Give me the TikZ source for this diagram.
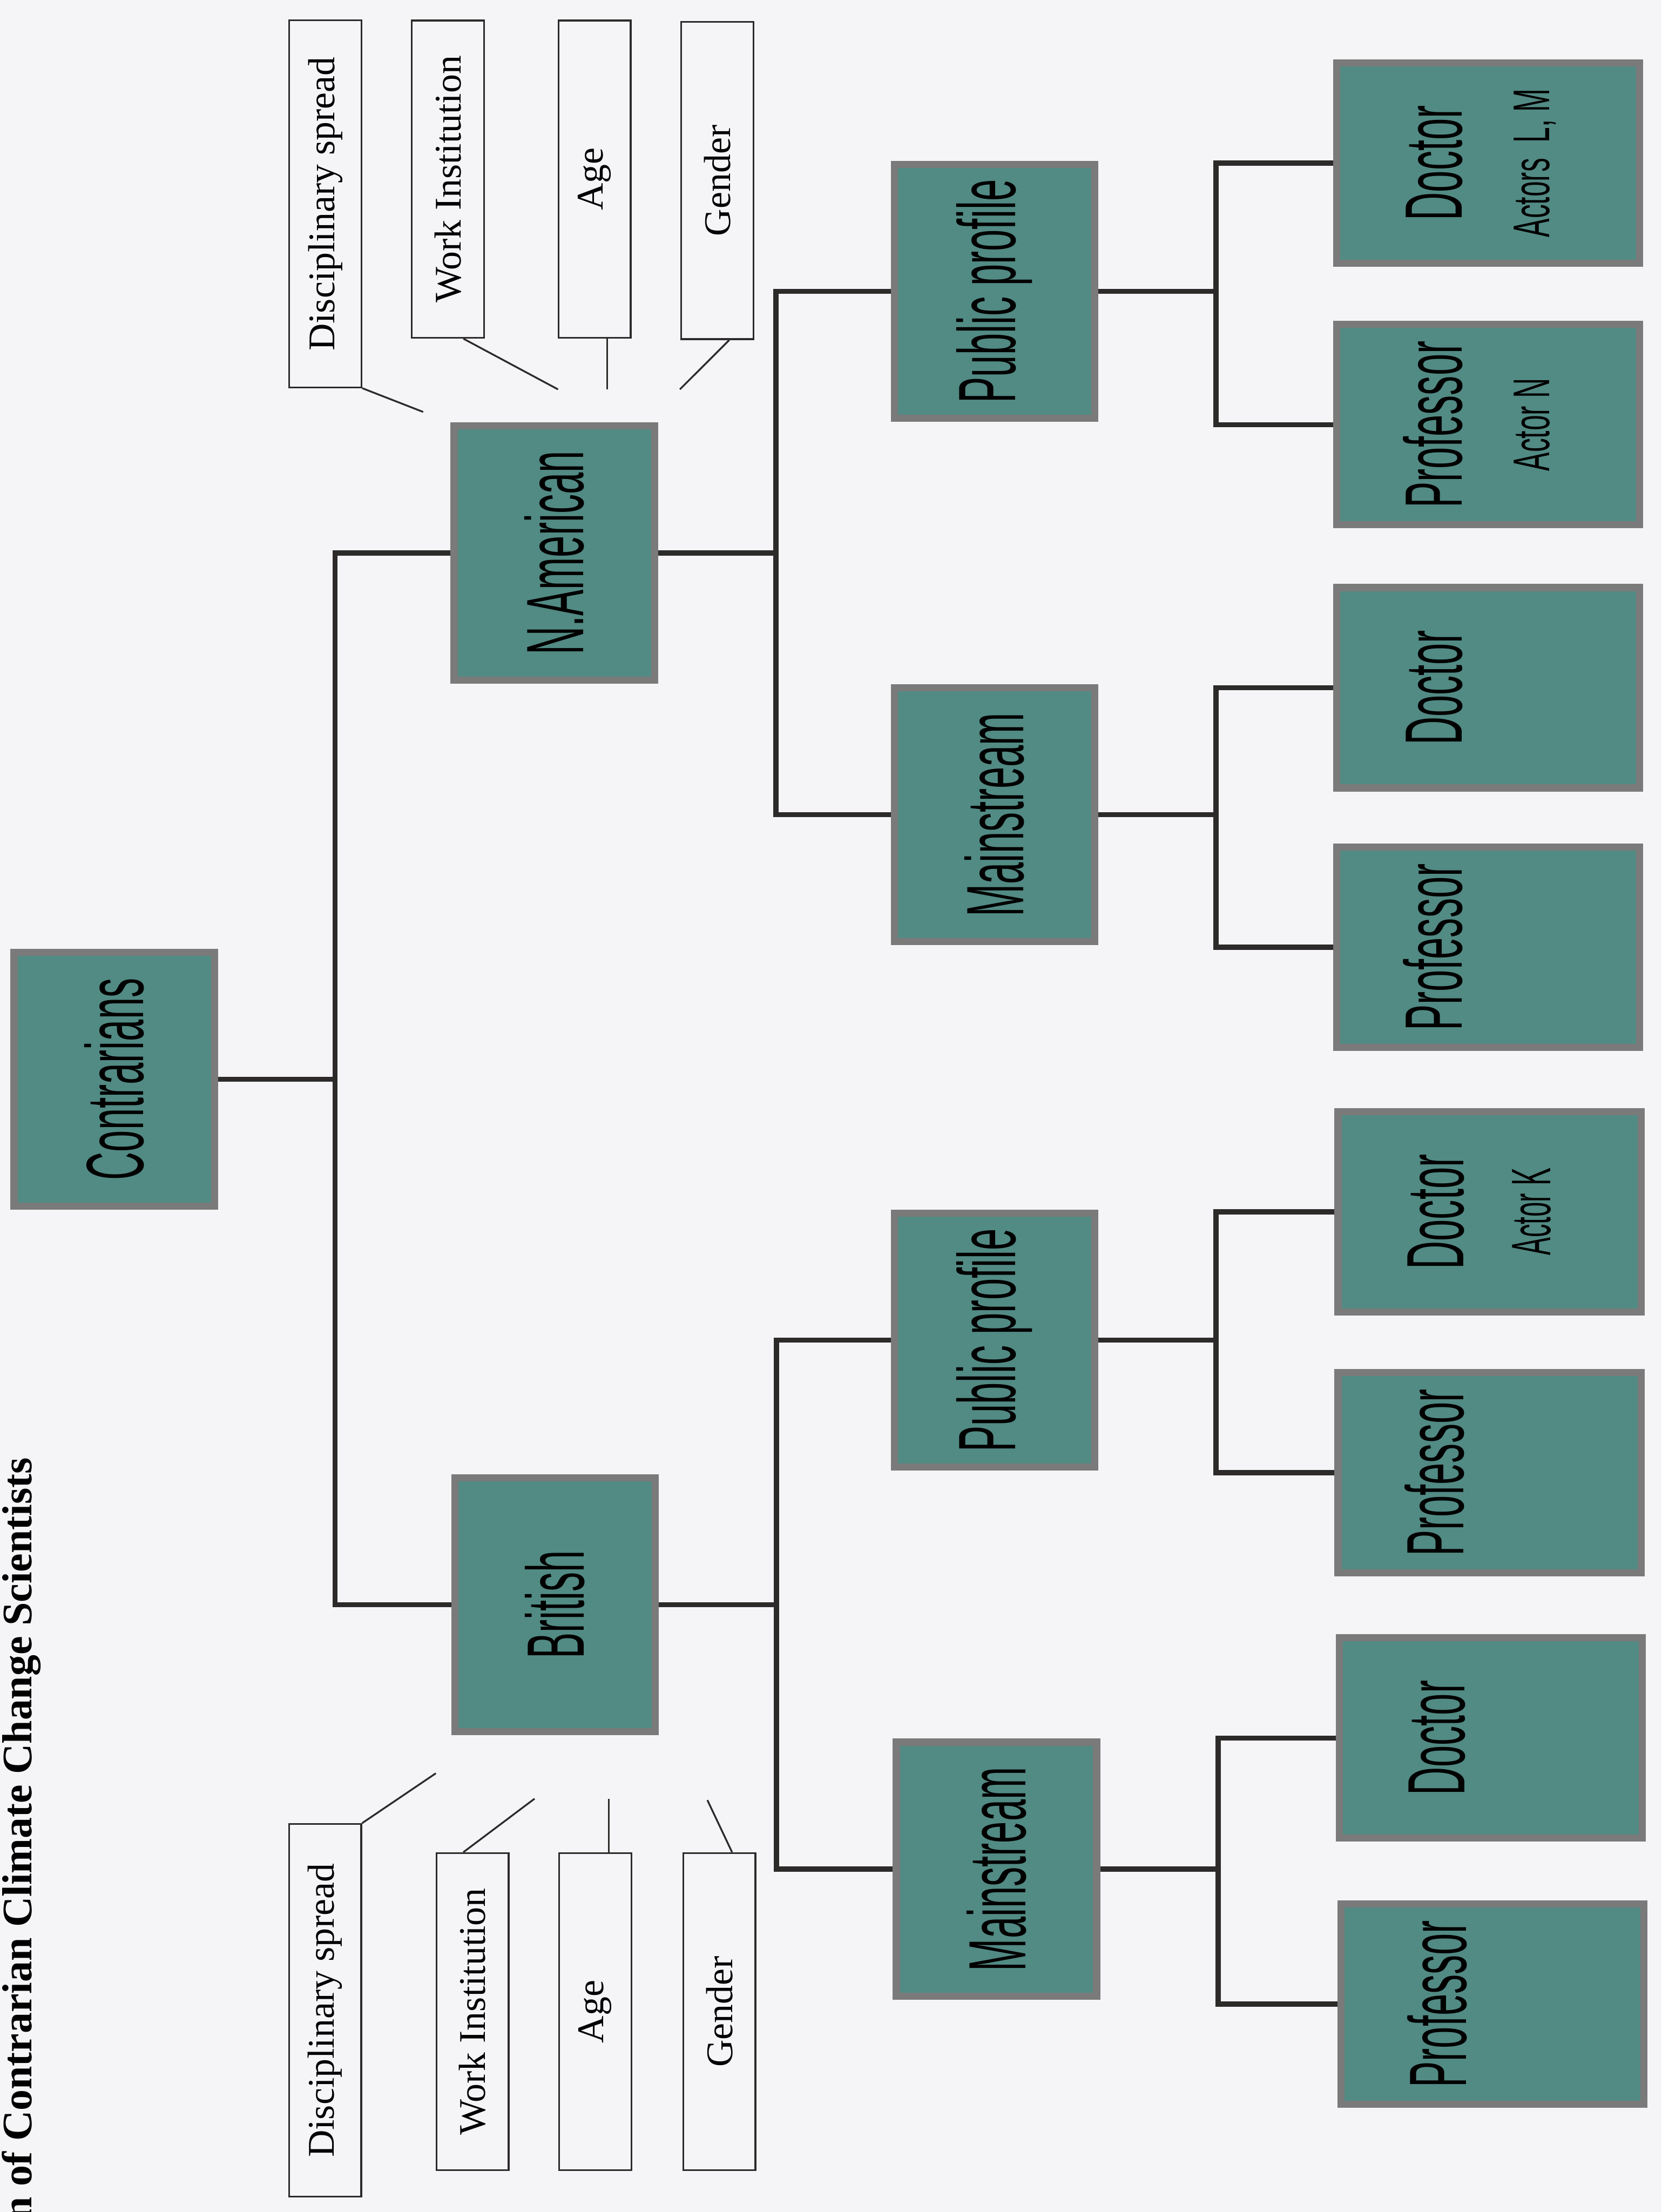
\documentclass[tikz,border=0pt]{standalone}
\usepackage{fontspec}
\usepackage{graphicx}
\setmainfont{Liberation Serif}
\newfontfamily\boxfont[FakeStretch=0.48]{Liberation Sans}
\newfontfamily\subfont[FakeStretch=0.54]{Liberation Sans}
\usetikzlibrary{calc}
\definecolor{tealbox}{RGB}{82,138,132}
\definecolor{boxedge}{RGB}{122,122,122}
\definecolor{paper}{RGB}{245,245,248}
\definecolor{inkline}{RGB}{45,42,42}
\newcommand{\up}[1]{\rotatebox{90}{#1}}
\newcommand{\leaf}[2]{\rotatebox{90}{\begin{tabular}{@{}c@{}}#1\\ \subfont\fontsize{26}{30}\selectfont #2\end{tabular}}}

\begin{document}
\begin{tikzpicture}[x=0.025cm, y=-0.025cm,
  group/.style={draw=boxedge, line width=3.6pt, fill=tealbox, inner sep=0pt,
    minimum width=3.55cm, minimum height=4.5cm, font=\boxfont\fontsize{41}{44}\selectfont},
  leafbox/.style={group, minimum width=5.37cm, minimum height=3.55cm},
  factor/.style={draw=inkline, line width=0.9pt, inner sep=0pt,
    minimum width=1.28cm, minimum height=5.62cm, font=\fontsize{19}{22}\selectfont},
  branch/.style={draw=inkline, line width=2.6pt},
  tie/.style={draw=inkline, line width=0.9pt}]
  \useasboundingbox (0,0) rectangle (1178,1568);
  \fill[paper] (0,0) rectangle (1178,1568);
  \clip (0,0) rectangle (1178,1568);
  % caption, cut by the page edge
  \node[rotate=90, anchor=base east, inner sep=0pt, font=\bfseries\fontsize{21.2}{25}\selectfont] (title)
    at (22.3,1033) {n of Contrarian Climate Change Scientists};
  % top of the tree
  \node[group] (con) at (81,765) {\up{Contrarians}};
  \node[group] (na) at (393,392) {\up{N.American}};
  \node[group] (br) at (393.5,1137.5) {\up{British}};
  % profiles
  \node[group] (napub) at (705,206.5) {\up{Public profile}};
  \node[group] (namain) at (705,577.5) {\up{Mainstream}};
  \node[group] (brpub) at (705,950) {\up{Public profile}};
  \node[group] (brmain) at (706.5,1325) {\up{Mainstream}};
  % ranks
  \node[leafbox] (napubdoc) at (1055,115.5) {\leaf{Doctor}{Actors\ \ L, M}};
  \node[leafbox] (napubprof) at (1055,301) {\leaf{Professor}{Actor N}};
  \node[leafbox] (namaindoc) at (1055,487.5) {\leaf{Doctor}{}};
  \node[leafbox] (namainprof) at (1055,671.5) {\leaf{Professor}{}};
  \node[leafbox] (brpubdoc) at (1056,859) {\leaf{Doctor}{\boxfont\fontsize{28}{32}\selectfont Actor K}};
  \node[leafbox] (brpubprof) at (1056,1044) {\leaf{Professor}{}};
  \node[leafbox] (brmaindoc) at (1057,1232) {\leaf{Doctor}{}};
  \node[leafbox] (brmainprof) at (1058,1420.5) {\leaf{Professor}{}};
  % tree lines
  \draw[branch] (con.east) -- ++(83,0) |- (na.west);
  \draw[branch] (con.east) -- ++(83,0) |- (br.west);
  \foreach \p/\a/\b in {na/napub/namain, br/brpub/brmain,
      napub/napubdoc/napubprof, namain/namaindoc/namainprof,
      brpub/brpubdoc/brpubprof, brmain/brmaindoc/brmainprof} {
    \draw[branch] (\p.east) -- ++(83.5,0) |- (\a.west);
    \draw[branch] (\p.east) -- ++(83.5,0) |- (\b.west);
  }
  % attributes, North American side
  \node[factor, minimum height=6.5cm] (nadisc) at (230.6,144.5) {\up{Disciplinary spread}};
  \node[factor] (nawork) at (317.5,127) {\up{Work Institution}};
  \node[factor] (naage) at (421.5,127) {\up{Age}};
  \node[factor] (nagen) at (508.5,128) {\up{Gender}};
  \coordinate (nadisc-end) at (300,292);
  \coordinate (nawork-end) at (395.6,276);
  \coordinate (naage-end) at (430.5,276);
  \coordinate (nagen-end) at (482,276);
  \draw[tie] (nadisc.south east) -- (nadisc-end);
  \draw[tie] ($(nawork.south)+(11,0)$) -- (nawork-end);
  \draw[tie] ($(naage.south)+(9,0)$) -- (naage-end);
  \draw[tie] ($(nagen.south)+(8.5,0)$) -- (nagen-end);
  % attributes, British side
  \node[factor, minimum height=6.6cm] (brdisc) at (230.5,1425) {\up{Disciplinary spread}};
  \node[factor] (brwork) at (335,1426) {\up{Work Institution}};
  \node[factor] (brage) at (422,1426) {\up{Age}};
  \node[factor] (brgen) at (510,1426) {\up{Gender}};
  \coordinate (brdisc-end) at (309,1257);
  \coordinate (brwork-end) at (379,1275);
  \coordinate (brage-end) at (431.5,1275);
  \coordinate (brgen-end) at (501.5,1276);
  \draw[tie] (brdisc.north east) -- (brdisc-end);
  \draw[tie] ($(brwork.north)+(-6.5,0)$) -- (brwork-end);
  \draw[tie] ($(brage.north)+(9.5,0)$) -- (brage-end);
  \draw[tie] ($(brgen.north)+(9,0)$) -- (brgen-end);
\end{tikzpicture}
\end{document}
